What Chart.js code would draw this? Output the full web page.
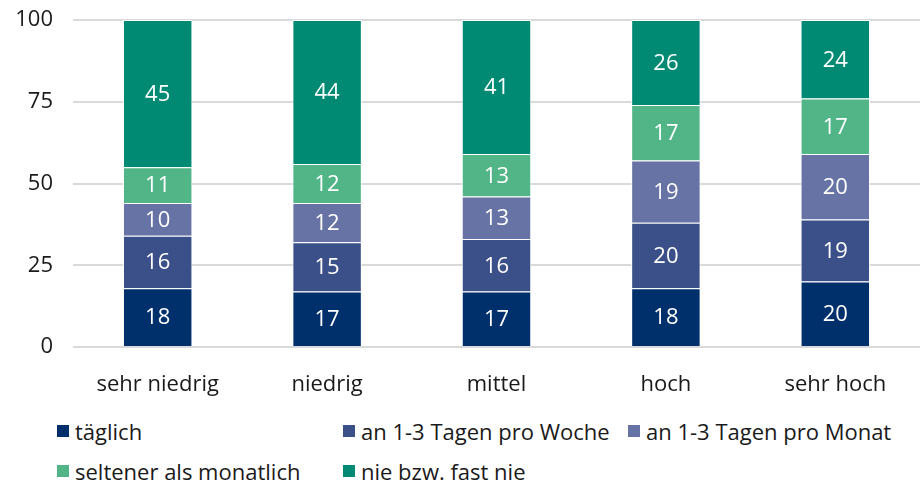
<!DOCTYPE html>
<html>
<head>
<meta charset="utf-8">
<script src="https://cdn.jsdelivr.net/npm/chart.js@4.4.0/dist/chart.umd.min.js"></script>
<style>
  body { margin: 0; background: #fff; font-family: "Open Sans", sans-serif; }
  #wrap { position: relative; width: 920px; height: 400px; }
  #legend { position: absolute; left: 57px; top: 416px; width: 863px; }
  .item { position: absolute; display: flex; align-items: center; font-size: 22px; color: #1a1a1a; white-space: nowrap; }
  .box { width: 12px; height: 12px; margin-right: 6px; }
</style>
</head>
<body>
<div id="wrap"><canvas id="myChart"></canvas></div>
<div id="legend"></div>
<script>
// categories and values
var categories = ['sehr niedrig', 'niedrig', 'mittel', 'hoch', 'sehr hoch'];
var yTicks = [0, 25, 50, 75, 100];

var taeglich = [18, 17, 17, 18, 20];
var proWoche = [16, 15, 16, 20, 19];
var proMonat = [10, 12, 13, 19, 20];
var seltener = [11, 12, 13, 17, 17];
var nie = [45, 44, 41, 26, 24];

var seriesNames = ['täglich', 'an 1-3 Tagen pro Woche', 'an 1-3 Tagen pro Monat', 'seltener als monatlich', 'nie bzw. fast nie'];
var seriesValues = [taeglich, proWoche, proMonat, seltener, nie];
var seriesColors = ['#00306b', '#3b5088', '#6673a4', '#52b587', '#008a74'];

// white numbers in the middle of each segment
var segmentLabels = {
    id: 'segmentLabels',
    afterDatasetsDraw: function (chart) {
        var ctx = chart.ctx;
        ctx.save();
        ctx.fillStyle = '#fff';
        ctx.font = '22px "Open Sans"';
        ctx.textAlign = 'center';
        ctx.textBaseline = 'middle';
        chart.data.datasets.forEach(function (ds, i) {
            chart.getDatasetMeta(i).data.forEach(function (bar, j) {
                ctx.fillText(ds.data[j], bar.x, (bar.y + bar.base) / 2 + 1);
            });
        });
        ctx.restore();
    }
};

var datasets = [];
for (var i = 0; i < seriesNames.length; i++) {
    datasets.push({
        label: seriesNames[i],
        data: seriesValues[i],
        backgroundColor: seriesColors[i],
        borderColor: '#fff',
        borderWidth: 1,
        barPercentage: 0.41,
        categoryPercentage: 1
    });
}

new Chart(document.getElementById('myChart'), {
    type: 'bar',
    data: { labels: categories, datasets: datasets },
    plugins: [segmentLabels],
    options: {
        responsive: true,
        maintainAspectRatio: false,
        animation: false,
        layout: { padding: { top: 20, right: 0, bottom: 0, left: 0 } },
        plugins: {
            legend: { display: false },
            tooltip: { enabled: false }
        },
        scales: {
            x: {
                stacked: true,
                grid: { display: false },
                border: { display: false },
                ticks: { color: '#1a1a1a', font: { family: 'Open Sans', size: 22 }, padding: 17 },
                afterFit: function (axis) { axis.height = 53; }
            },
            y: {
                stacked: true,
                min: 0,
                max: 100,
                afterBuildTicks: function (axis) {
                    axis.ticks = yTicks.map(function (v) { return { value: v }; });
                },
                grid: { color: '#d9d9d9', lineWidth: 2, drawTicks: false },
                border: { display: false },
                ticks: { color: '#1a1a1a', font: { family: 'Open Sans', size: 22 }, padding: 20 },
                afterFit: function (axis) {
                    axis.width = 73;
                    axis.paddingTop = 0;
                    axis.paddingBottom = 0;
                }
            }
        }
    }
});

// legend in three columns like the original
var legend = document.getElementById('legend');
var colX = [0, 286, 571];
seriesNames.forEach(function (name, i) {
    var item = document.createElement('div');
    item.className = 'item';
    item.style.left = colX[i % 3] + 'px';
    item.style.top = (Math.floor(i / 3) * 40) + 'px';
    item.innerHTML = '<span class="box" style="background:' + seriesColors[i] + '"></span>' + name;
    legend.appendChild(item);
});
</script>
</body>
</html>
